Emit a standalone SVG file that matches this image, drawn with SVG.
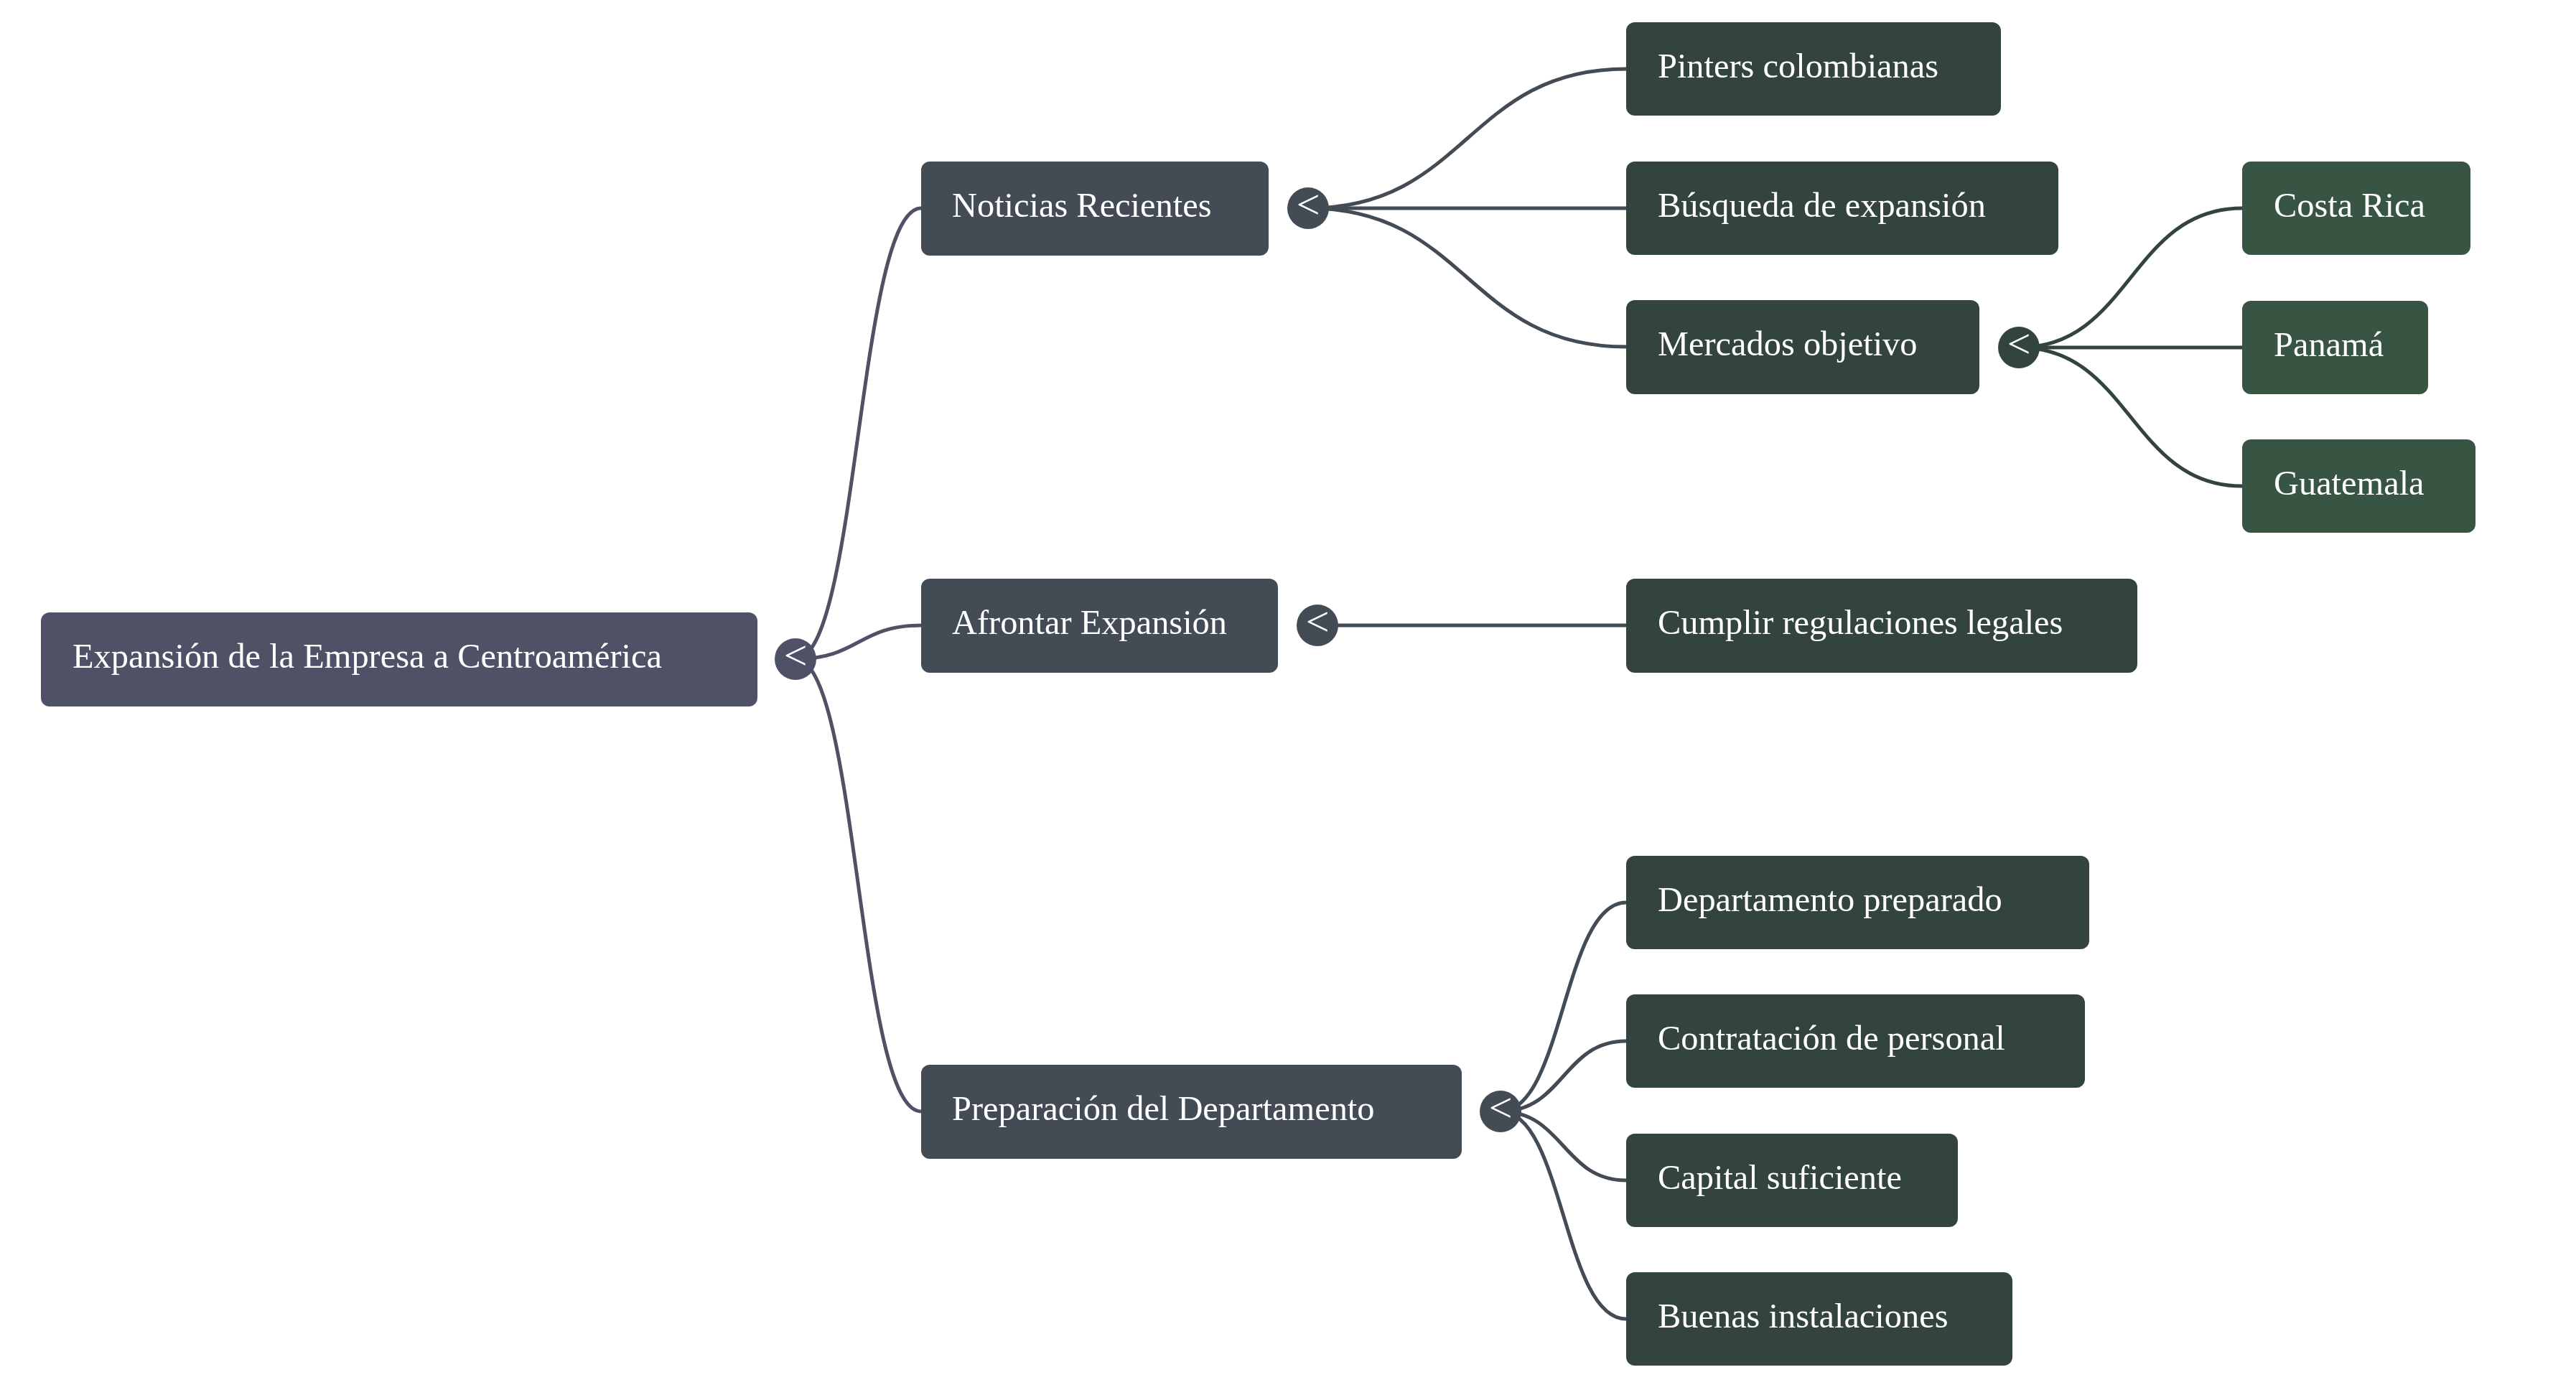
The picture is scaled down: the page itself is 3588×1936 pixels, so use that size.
<svg xmlns="http://www.w3.org/2000/svg" width="3588" height="1936" viewBox="0 0 3588 1936">
<style>
  text { font-family: "Liberation Serif", "Times New Roman", serif; font-size: 48.4px; fill: #ffffff; }
  .lbl { text-anchor: start; }
  .tog { text-anchor: middle; font-size: 58px; }
  .edge { fill: none; stroke-width: 5; stroke-linecap: round; }
  .c0 { fill: #4f5166; }
  .c1 { fill: #434b55; }
  .c2 { fill: #33433e; }
  .c3 { fill: #385443; }
  .e0 { stroke: #4f5166; }
  .e1 { stroke: #434b55; }
  .e2 { stroke: #33433e; }
</style>
<rect width="3588" height="1936" fill="#ffffff"/>
<g id="connectors">
  <path class="edge e0" d="M1108 918 C1195.5 918 1195.5 290 1283 290"/>
  <path class="edge e0" d="M1108 918 C1195.5 918 1195.5 871 1283 871"/>
  <path class="edge e0" d="M1108 918 C1195.5 918 1195.5 1548 1283 1548"/>
  <path class="edge e1" d="M1822 290 C2043.5 290 2043.5 96 2265 96"/>
  <path class="edge e1" d="M1822 290 L2265 290"/>
  <path class="edge e1" d="M1822 290 C2043.5 290 2043.5 483 2265 483"/>
  <path class="edge e1" d="M1835 871 L2265 871"/>
  <path class="edge e1" d="M2090 1548 C2177.5 1548 2177.5 1257 2265 1257"/>
  <path class="edge e1" d="M2090 1548 C2177.5 1548 2177.5 1450 2265 1450"/>
  <path class="edge e1" d="M2090 1548 C2177.5 1548 2177.5 1644 2265 1644"/>
  <path class="edge e1" d="M2090 1548 C2177.5 1548 2177.5 1837 2265 1837"/>
  <path class="edge e2" d="M2812 484 C2967.5 484 2967.5 290 3123 290"/>
  <path class="edge e2" d="M2812 484 L3123 484"/>
  <path class="edge e2" d="M2812 484 C2967.5 484 2967.5 677 3123 677"/>
</g>
<g id="node-root">
  <rect class="c0" x="57" y="853" width="998" height="131" rx="12"/>
  <text class="lbl" x="101" y="930">Expansión de la Empresa a Centroamérica</text>
  <circle class="c0" cx="1108" cy="918" r="29"/>
  <text class="tog" x="1108" y="932">&lt;</text>
</g>
<g id="node-noticias">
  <rect class="c1" x="1283" y="225" width="484" height="131" rx="12"/>
  <text class="lbl" x="1326" y="302">Noticias Recientes</text>
  <circle class="c1" cx="1822" cy="290" r="29"/>
  <text class="tog" x="1822" y="304">&lt;</text>
</g>
<g id="node-afrontar">
  <rect class="c1" x="1283" y="806" width="497" height="131" rx="12"/>
  <text class="lbl" x="1326" y="883">Afrontar Expansión</text>
  <circle class="c1" cx="1835" cy="871" r="29"/>
  <text class="tog" x="1835" y="885">&lt;</text>
</g>
<g id="node-preparacion">
  <rect class="c1" x="1283" y="1483" width="753" height="131" rx="12"/>
  <text class="lbl" x="1326" y="1560">Preparación del Departamento</text>
  <circle class="c1" cx="2090" cy="1548" r="29"/>
  <text class="tog" x="2090" y="1562">&lt;</text>
</g>
<g id="node-pinters">
  <rect class="c2" x="2265" y="31" width="522" height="130" rx="12"/>
  <text class="lbl" x="2309" y="108">Pinters colombianas</text>
</g>
<g id="node-busqueda">
  <rect class="c2" x="2265" y="225" width="602" height="130" rx="12"/>
  <text class="lbl" x="2309" y="302">Búsqueda de expansión</text>
</g>
<g id="node-mercados">
  <rect class="c2" x="2265" y="418" width="492" height="131" rx="12"/>
  <text class="lbl" x="2309" y="495">Mercados objetivo</text>
  <circle class="c2" cx="2812" cy="484" r="29"/>
  <text class="tog" x="2812" y="498">&lt;</text>
</g>
<g id="node-cumplir">
  <rect class="c2" x="2265" y="806" width="712" height="131" rx="12"/>
  <text class="lbl" x="2309" y="883">Cumplir regulaciones legales</text>
</g>
<g id="node-departamento">
  <rect class="c2" x="2265" y="1192" width="645" height="130" rx="12"/>
  <text class="lbl" x="2309" y="1269">Departamento preparado</text>
</g>
<g id="node-contratacion">
  <rect class="c2" x="2265" y="1385" width="639" height="130" rx="12"/>
  <text class="lbl" x="2309" y="1462">Contratación de personal</text>
</g>
<g id="node-capital">
  <rect class="c2" x="2265" y="1579" width="462" height="130" rx="12"/>
  <text class="lbl" x="2309" y="1656">Capital suficiente</text>
</g>
<g id="node-buenas">
  <rect class="c2" x="2265" y="1772" width="538" height="130" rx="12"/>
  <text class="lbl" x="2309" y="1849">Buenas instalaciones</text>
</g>
<g id="node-costarica">
  <rect class="c3" x="3123" y="225" width="318" height="130" rx="12"/>
  <text class="lbl" x="3167" y="302">Costa Rica</text>
</g>
<g id="node-panama">
  <rect class="c3" x="3123" y="419" width="259" height="130" rx="12"/>
  <text class="lbl" x="3167" y="496">Panamá</text>
</g>
<g id="node-guatemala">
  <rect class="c3" x="3123" y="612" width="325" height="130" rx="12"/>
  <text class="lbl" x="3167" y="689">Guatemala</text>
</g>
</svg>
